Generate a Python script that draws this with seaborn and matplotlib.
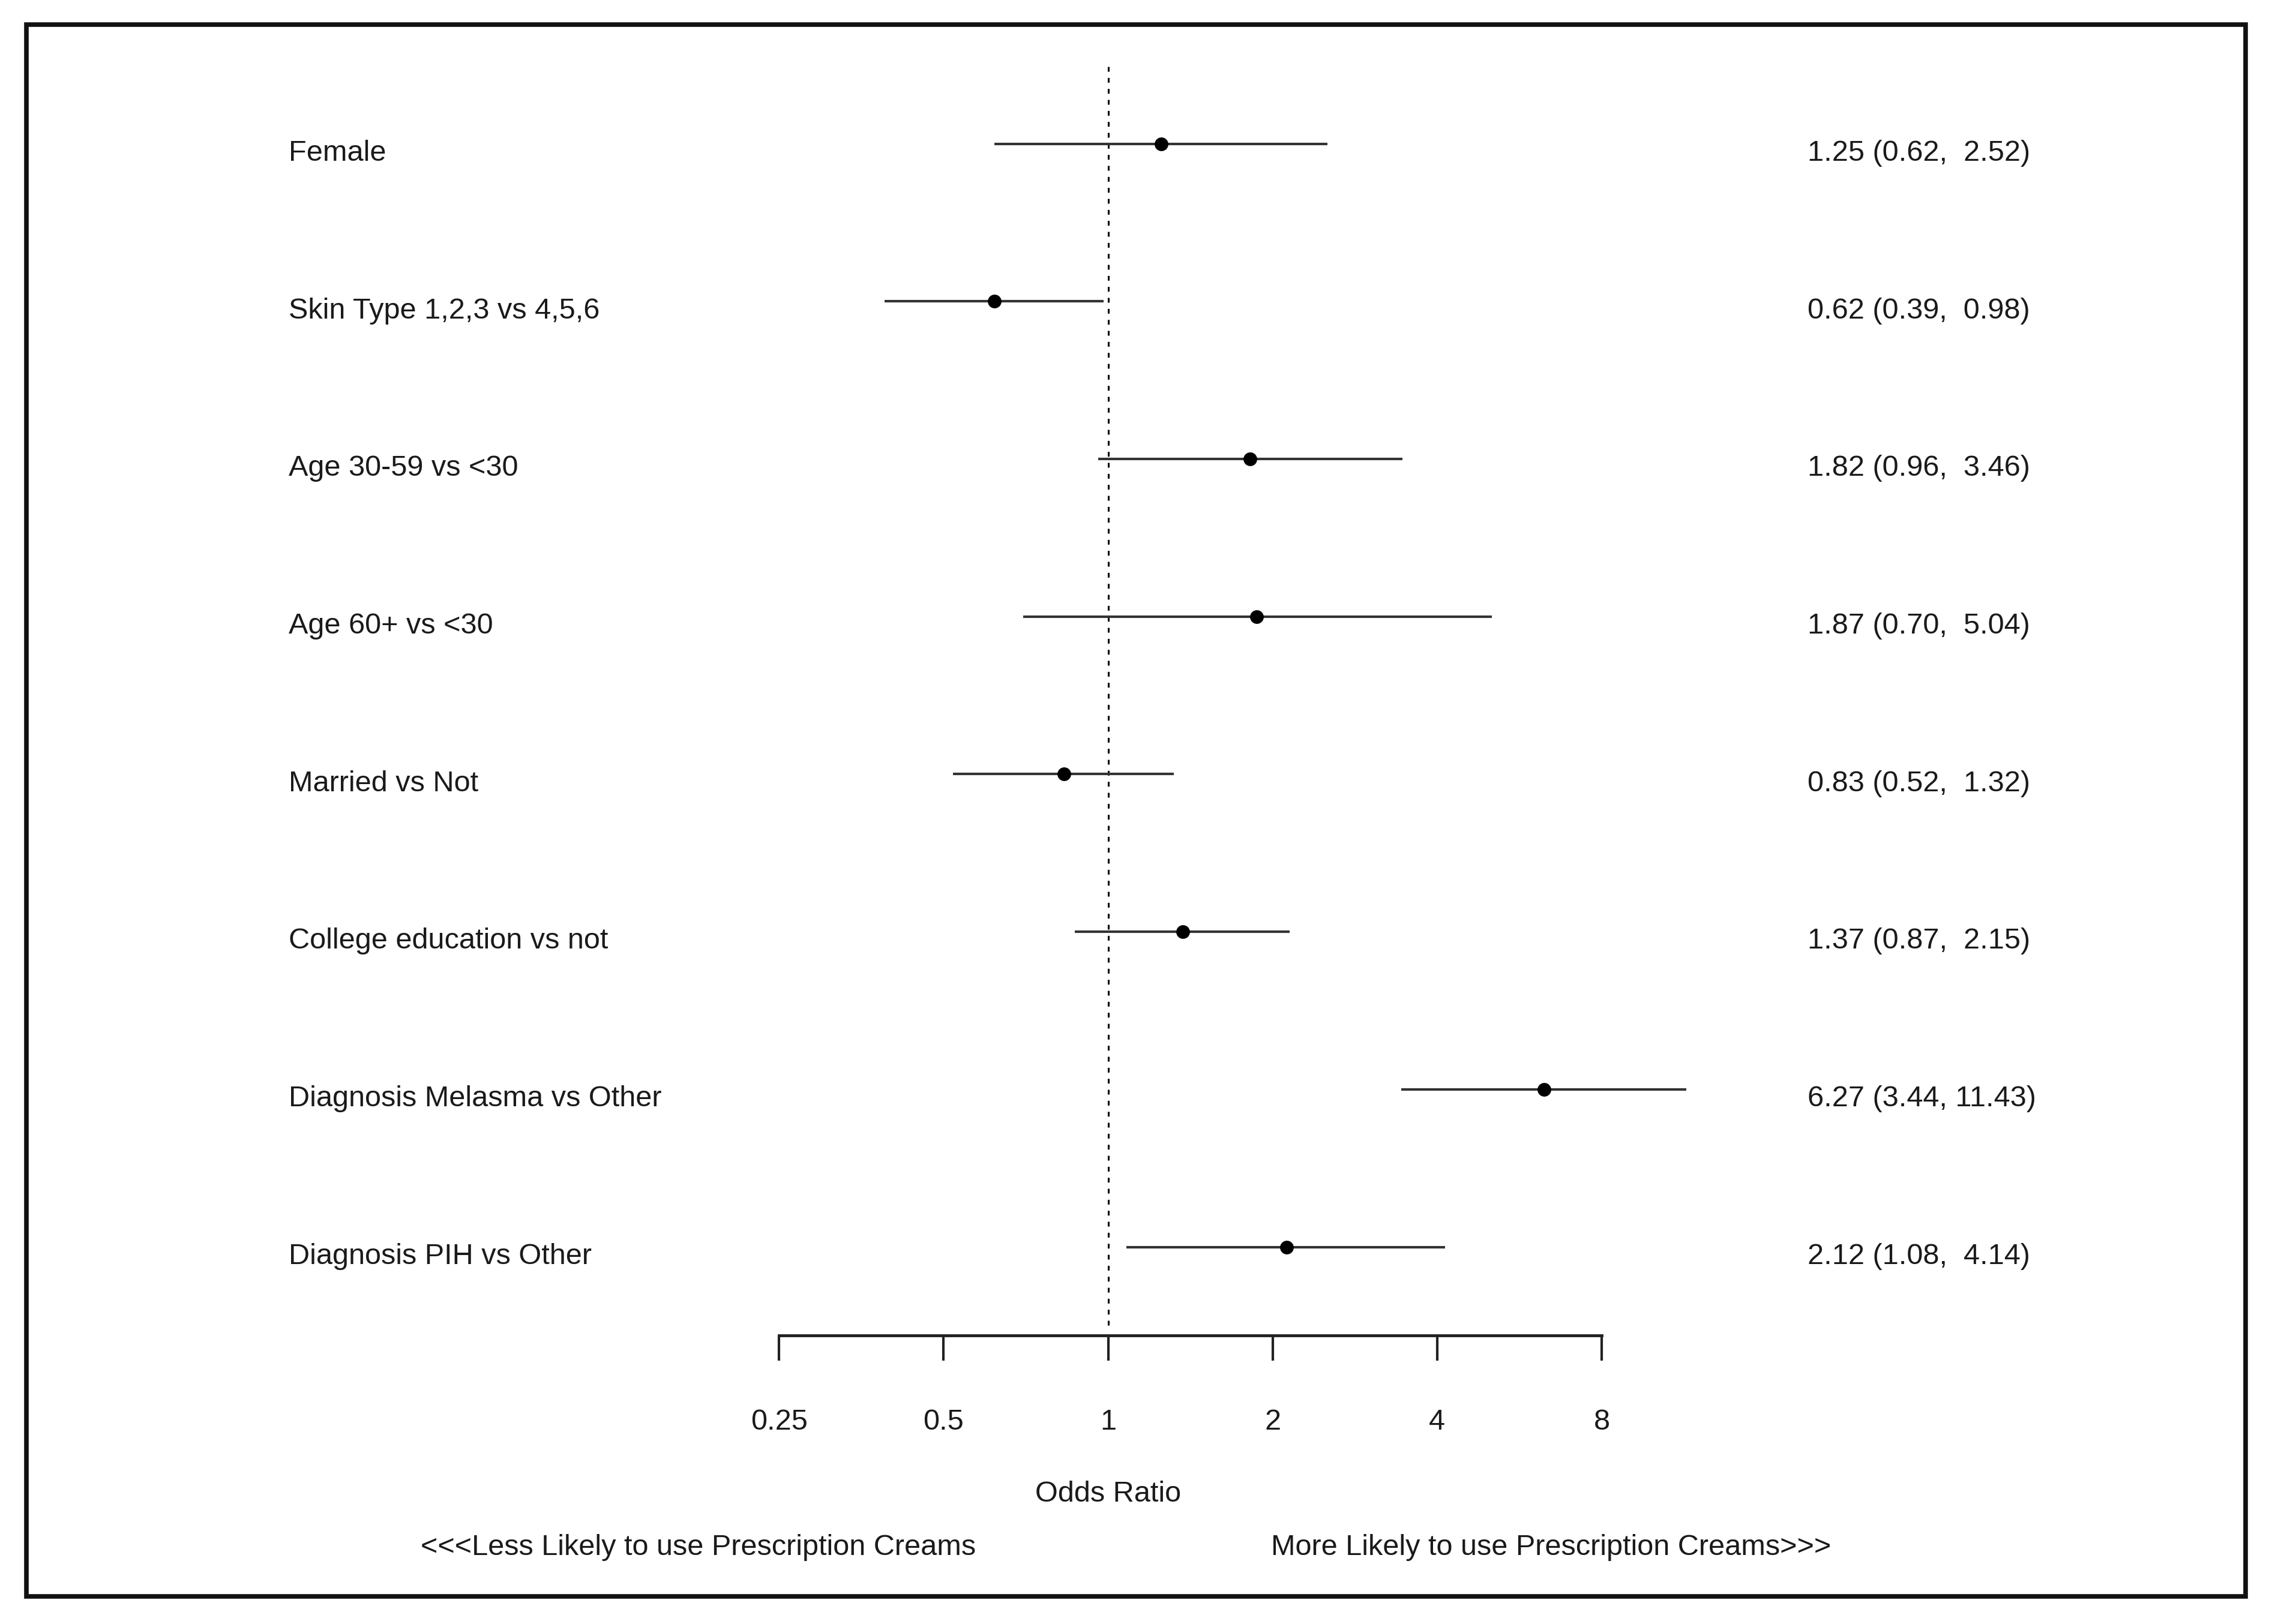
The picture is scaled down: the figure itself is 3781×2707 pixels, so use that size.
import numpy as np
import pandas as pd
import matplotlib.pyplot as plt
import matplotlib.transforms as mtransforms
from matplotlib.patches import Rectangle
import seaborn as sns

sns.set_theme(style="white")
plt.rcParams['font.family'] = ['Liberation Sans', 'DejaVu Sans']

# Forest plot data: odds ratio with 95% CI
labels = ['Female', 'Skin Type 1,2,3 vs 4,5,6', 'Age 30-59 vs <30', 'Age 60+ vs <30',
          'Married vs Not', 'College education vs not', 'Diagnosis Melasma vs Other',
          'Diagnosis PIH vs Other']
odds = [1.25, 0.62, 1.82, 1.87, 0.83, 1.37, 6.27, 2.12]
lower = [0.62, 0.39, 0.96, 0.70, 0.52, 0.87, 3.44, 1.08]
upper = [2.52, 0.98, 3.46, 5.04, 1.32, 2.15, 11.43, 4.14]
ticks = [0.25, 0.5, 1, 2, 4, 8]
tick_labels = ['0.25', '0.5', '1', '2', '4', '8']

df = pd.DataFrame({'label': labels, 'OR': odds, 'lo': lower, 'hi': upper})
df['row'] = np.arange(len(df))
df['text'] = [f"{o:.2f} ({l:.2f}, {h:5.2f})" for o, l, h in zip(odds, lower, upper)]

# layout measured on a 1564 x 1125 grid of the reference
W, H = 1564, 1125
fx = lambda x: x / W
fy = lambda y: 1 - y / H
FS = 35
TXT = '#1a1a1a'

fig = plt.figure(figsize=(37.81, 27.07), dpi=100)
fig.patch.set_facecolor('white')

ax = fig.add_axes([fx(537), fy(925), fx(1104) - fx(537), fy(45) - fy(925)])
ax.set_xscale('log', base=2)
ax.set_xlim(0.25, 8)
ax.set_ylim(7.56, -0.5)

ax.axvline(1, color='black', lw=2.2, ls=(0, (2.6, 3.4)), ymin=0.008, zorder=1)
ax.hlines(df['row'], df['lo'], df['hi'], color='#333333', lw=3, clip_on=False, zorder=2)
sns.scatterplot(data=df, x='OR', y='row', color='black', s=270, linewidth=0,
                ax=ax, zorder=3, clip_on=False, legend=False)

# axis styling
for side in ['top', 'left', 'right']:
    ax.spines[side].set_visible(False)
ax.spines['bottom'].set_linewidth(3.5)
ax.spines['bottom'].set_color('#222222')
ax.set_yticks([])
ax.set_xticks(ticks)
ax.set_xticklabels(tick_labels)
ax.minorticks_off()
ax.tick_params(axis='x', direction='out', length=30, width=3, color='#222222',
               pad=58, labelsize=FS, labelcolor=TXT, bottom=True)
ax.set_xlabel('')
ax.set_ylabel('')
ax.patch.set_alpha(0)

# row labels and estimate text
tr = mtransforms.blended_transform_factory(fig.transFigure, ax.transData)
for _, r in df.iterrows():
    ax.text(fx(199), r['row'] + 0.06, r['label'], transform=tr, ha='left', va='center',
            fontsize=FS, color=TXT)
    ax.text(fx(1246), r['row'] + 0.06, r['text'], transform=tr, ha='left', va='center',
            fontsize=FS, color=TXT)

fig.text(fx(764), fy(1035), 'Odds Ratio', ha='center', va='center', fontsize=FS, color=TXT)
fig.text(fx(290), fy(1072), '<<<Less Likely to use Prescription Creams', ha='left', va='center',
         fontsize=FS, color=TXT)
fig.text(fx(876), fy(1072), 'More Likely to use Prescription Creams>>>', ha='left', va='center',
         fontsize=FS, color=TXT)

# outer frame
fig.patches.append(Rectangle((fx(18), fy(1106)), fx(1548) - fx(18), fy(17) - fy(1106),
                             transform=fig.transFigure, fill=False, edgecolor='#111111',
                             lw=5.5, zorder=10))

fig.savefig('out.png', dpi=100, facecolor='white')
